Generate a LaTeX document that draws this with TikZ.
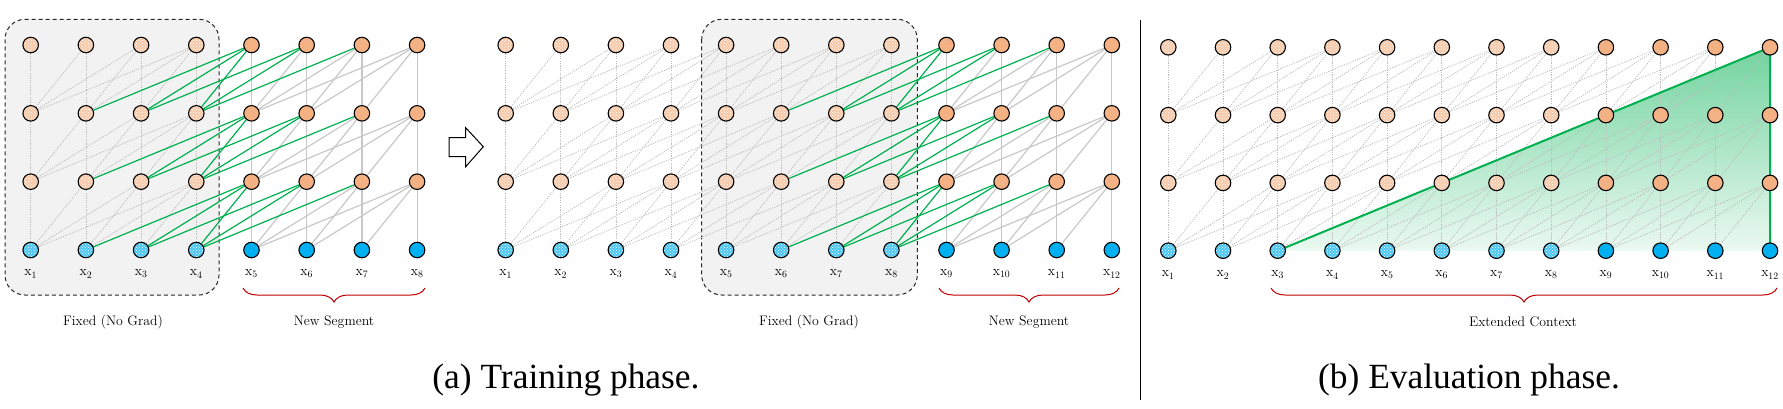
\documentclass[tikz,border=0pt]{standalone}
\usepackage{fontspec}
\newfontfamily\capfont{Liberation Serif}
\usetikzlibrary{patterns,decorations.pathreplacing}
\definecolor{nodeor}{HTML}{F4B183}
\definecolor{nodebl}{HTML}{00B0F0}
\definecolor{fixor}{HTML}{F7C9A9}
\definecolor{fixbl}{HTML}{4CC6F2}
\definecolor{grn}{HTML}{00B050}
\definecolor{lgray}{HTML}{C8C8C8}
\definecolor{dgray}{HTML}{BDBDBD}
\definecolor{boxgray}{HTML}{F2F2F2}
\definecolor{bracered}{HTML}{C00000}
\pgfdeclarelayer{back}
\pgfdeclarelayer{edges}
\pgfsetlayers{back,edges,main}
\tikzset{
  neu/.style={circle, draw=black, line width=1.1pt, minimum size=15.5pt, inner sep=0pt},
  ornew/.style={neu, fill=nodeor},
  blnew/.style={neu, fill=nodebl},
  orfix/.style={neu, preaction={fill=fixor}, preaction={pattern=crosshatch dots, pattern color=white}},
  blfix/.style={neu, preaction={fill=fixbl}, preaction={pattern=crosshatch dots, pattern color=white}},
  lbl/.style={font=\fontsize{14}{16}\selectfont, inner sep=0pt},
  txt/.style={font=\fontsize{13.8}{16}\selectfont, inner sep=0pt},
  captext/.style={font=\capfont\fontsize{35.4}{40}\selectfont, anchor=base, inner sep=0pt},
  gline/.style={draw=grn, line width=1.2pt},
  sline/.style={draw=lgray, line width=1.2pt},
  dline/.style={draw=dgray, line width=0.8pt, dash pattern=on 1.2pt off 1.2pt},
  fixbox/.style={draw=black!85, fill=boxgray, line width=1pt, rounded corners=20pt, dash pattern=on 4pt off 3pt},
  bracestyle/.style={draw=bracered, line width=1pt, decorate, decoration={brace, mirror, amplitude=14pt}},
}
\begin{document}
\begin{tikzpicture}[x=1pt,y=-1pt]
\useasboundingbox (0,0) rectangle (1783,408);

% ---------------- panel (a), left diagram ----------------
\foreach \i in {1,...,8}{
  \pgfmathsetmacro\xx{30.7+55.2*(\i-1)}
  \ifnum\i<5
    \node[blfix] (A-\i-0) at (\xx,250) {};
    \node[orfix] (A-\i-1) at (\xx,181.67) {};
    \node[orfix] (A-\i-2) at (\xx,113.33) {};
    \node[orfix] (A-\i-3) at (\xx,45) {};
  \else
    \node[blnew] (A-\i-0) at (\xx,250) {};
    \node[ornew] (A-\i-1) at (\xx,181.67) {};
    \node[ornew] (A-\i-2) at (\xx,113.33) {};
    \node[ornew] (A-\i-3) at (\xx,45) {};
  \fi
  \node[lbl] (LA-\i) at (\xx,274) {x\textsubscript{\i}};
}
% ---------------- panel (a), right diagram ----------------
\foreach \i in {1,...,12}{
  \pgfmathsetmacro\xx{505.7+55.1*(\i-1)}
  \ifnum\i<9
    \node[blfix] (B-\i-0) at (\xx,250) {};
    \node[orfix] (B-\i-1) at (\xx,181.67) {};
    \node[orfix] (B-\i-2) at (\xx,113.33) {};
    \node[orfix] (B-\i-3) at (\xx,45) {};
  \else
    \node[blnew] (B-\i-0) at (\xx,250) {};
    \node[ornew] (B-\i-1) at (\xx,181.67) {};
    \node[ornew] (B-\i-2) at (\xx,113.33) {};
    \node[ornew] (B-\i-3) at (\xx,45) {};
  \fi
  \node[lbl] (LB-\i) at (\xx,274) {x\textsubscript{\i}};
}
% ---------------- panel (b) ----------------
\foreach \i in {1,...,12}{
  \pgfmathsetmacro\xx{1168.3+54.7*(\i-1)}
  \ifnum\i<9
    \node[blfix] (C-\i-0) at (\xx,250.7) {};
    \node[orfix] (C-\i-1) at (\xx,182.9) {};
    \node[orfix] (C-\i-2) at (\xx,115.1) {};
    \node[orfix] (C-\i-3) at (\xx,47.3) {};
  \else
    \node[blnew] (C-\i-0) at (\xx,250.7) {};
    \node[ornew] (C-\i-1) at (\xx,182.9) {};
    \node[ornew] (C-\i-2) at (\xx,115.1) {};
    \node[ornew] (C-\i-3) at (\xx,47.3) {};
  \fi
  \node[lbl] (LC-\i) at (\xx,275) {x\textsubscript{\i}};
}

% ---------------- backgrounds ----------------
\begin{pgfonlayer}{back}
  \draw[fixbox] (5,19.3) rectangle (219,295);
  \draw[fixbox] (701.7,19.3) rectangle (917.3,295);
  \shade[top color=grn!55!white, bottom color=grn!8!white]
    (C-3-0.center) -- (C-12-3.center) -- (C-12-0.center) -- cycle;
\end{pgfonlayer}

% ---------------- edges ----------------
\begin{pgfonlayer}{edges}
  % left diagram: gray / dotted
  \foreach \l in {1,2,3}{
    \pgfmathtruncatemacro\m{\l-1}
    \foreach \i in {1,...,8}{
      \foreach \k in {0,...,3}{
        \pgfmathtruncatemacro\j{\i-\k}
        \ifnum\j>0
          \ifnum\i<5
            \draw[dline] (A-\j-\m) -- (A-\i-\l);
          \else
            \ifnum\j>4 \draw[sline] (A-\j-\m) -- (A-\i-\l);\fi
          \fi
        \fi
      }
    }
  }
  % left diagram: green
  \foreach \l in {1,2,3}{
    \pgfmathtruncatemacro\m{\l-1}
    \foreach \i in {5,...,8}{
      \foreach \k in {0,...,3}{
        \pgfmathtruncatemacro\j{\i-\k}
        \ifnum\j<5 \draw[gline] (A-\j-\m) -- (A-\i-\l);\fi
      }
    }
  }
  % right diagram: gray / dotted
  \foreach \l in {1,2,3}{
    \pgfmathtruncatemacro\m{\l-1}
    \foreach \i in {1,...,12}{
      \foreach \k in {0,...,3}{
        \pgfmathtruncatemacro\j{\i-\k}
        \ifnum\j>0
          \ifnum\i<9
            \draw[dline] (B-\j-\m) -- (B-\i-\l);
          \else
            \ifnum\j>8 \draw[sline] (B-\j-\m) -- (B-\i-\l);\fi
          \fi
        \fi
      }
    }
  }
  % right diagram: green
  \foreach \l in {1,2,3}{
    \pgfmathtruncatemacro\m{\l-1}
    \foreach \i in {9,...,12}{
      \foreach \k in {0,...,3}{
        \pgfmathtruncatemacro\j{\i-\k}
        \ifnum\j<9 \draw[gline] (B-\j-\m) -- (B-\i-\l);\fi
      }
    }
  }
  % panel (b): all dotted
  \foreach \l in {1,2,3}{
    \pgfmathtruncatemacro\m{\l-1}
    \foreach \i in {1,...,12}{
      \foreach \k in {0,...,3}{
        \pgfmathtruncatemacro\j{\i-\k}
        \ifnum\j>0 \draw[dline] (C-\j-\m) -- (C-\i-\l);\fi
      }
    }
  }
  \draw[draw=grn, line width=2pt, line join=round]
    (C-3-0.center) -- (C-12-3.center) -- (C-12-0.center);
\end{pgfonlayer}

% ---------------- arrow ----------------
\draw[line width=1pt, fill=white, line join=miter]
  (449,137.7) -- (465.7,137.7) -- (465.7,127.7) -- (483.3,146.7)
  -- (465.7,166.7) -- (465.7,156.7) -- (449,156.7) -- cycle;

% ---------------- braces and texts ----------------
\coordinate (bra1) at (243,288);  \coordinate (brb1) at (425,288);
\coordinate (bra2) at (939,288);  \coordinate (brb2) at (1119,288);
\coordinate (bra3) at (1271,288); \coordinate (brb3) at (1777,288);
\draw[bracestyle] (bra1) -- (brb1);
\draw[bracestyle] (bra2) -- (brb2);
\draw[bracestyle] (bra3) -- (brb3);

\node[txt] (fix1) at (113,321.7) {Fixed (No Grad)};
\node[txt] (new1) at (334,321.7) {New Segment};
\node[txt] (fix2) at (809,321.7) {Fixed (No Grad)};
\node[txt] (new2) at (1029,321.7) {New Segment};
\node[txt] (ext) at (1523,321.7) {Extended Context};

% separator
\coordinate (sepT) at (1140.7,20);
\coordinate (sepB) at (1140.7,400);
\draw[line width=1.5pt] (sepT) -- (sepB);

\node[captext] (capa) at (566,388) {(a) Training phase.};
\node[captext] (capb) at (1469,388) {(b) Evaluation phase.};
\end{tikzpicture}
\end{document}
